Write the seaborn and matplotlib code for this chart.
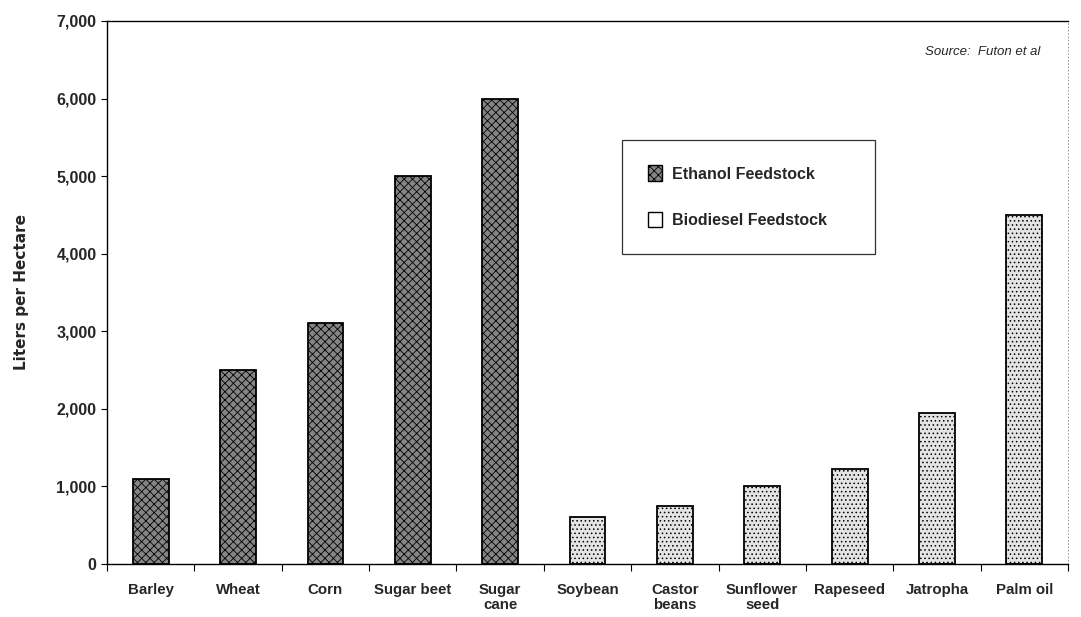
import matplotlib
matplotlib.use("Agg")
import matplotlib.pyplot as plt
import matplotlib.ticker as mticker
from matplotlib.patches import Patch
import seaborn as sns
import pandas as pd
import numpy as np

crops = ["Barley", "Wheat", "Corn", "Sugar beet", "Sugar\ncane", "Soybean",
         "Castor\nbeans", "Sunflower\nseed", "Rapeseed", "Jatropha", "Palm oil"]
yields = [1100, 2500, 3100, 5000, 6000, 600, 750, 1000, 1230, 1950, 4500]
feedstock = ["Ethanol Feedstock"] * 5 + ["Biodiesel Feedstock"] * 6

df = pd.DataFrame({"crop": crops, "yield": yields, "feedstock": feedstock})

sns.set_theme(style="white")
plt.rcParams["font.family"] = ["Liberation Sans", "DejaVu Sans"]
plt.rcParams["hatch.linewidth"] = 0.6

fig = plt.figure(figsize=(10.81, 6.17), dpi=100)
ax = fig.add_axes([0.099, 0.086, 0.889, 0.880])

palette = {"Ethanol Feedstock": "#858585", "Biodiesel Feedstock": "#e4e4e4"}
sns.barplot(data=df, x="crop", y="yield", hue="feedstock", palette=palette,
            dodge=False, width=0.41, edgecolor="black", linewidth=1.3,
            legend=False, ax=ax)

hatches = {"Ethanol Feedstock": "xxxx", "Biodiesel Feedstock": "...."}
for bar, kind in zip(ax.patches, feedstock):
    bar.set_hatch(hatches[kind])

ax.set_xlim(-0.5, len(crops) - 0.5)
ax.set_ylim(0, 7000)
ax.yaxis.set_major_locator(mticker.MultipleLocator(1000))
ax.yaxis.set_major_formatter(mticker.FuncFormatter(lambda v, p: f"{int(v):,}"))

ax.set_xticks(range(len(crops)))
ax.set_xticklabels(crops, fontsize=10.8, fontweight="bold", linespacing=1.05)
ax.set_xticks(np.arange(-0.5, len(crops) + 0.5, 1), minor=True)
ax.tick_params(axis="x", which="major", length=0, pad=14)
ax.tick_params(axis="x", which="minor", length=5, width=0.8, direction="out",
               color="black", bottom=True)
ax.tick_params(axis="y", length=4, width=0.8, direction="out", color="black",
               left=True, labelsize=11.5)
for lbl in ax.get_yticklabels():
    lbl.set_fontweight("bold")

ax.set_xlabel("")
ax.set_ylabel("Liters per Hectare", fontsize=11, fontweight="bold",
              family="DejaVu Sans", labelpad=20)

for side in ["left", "bottom", "top"]:
    ax.spines[side].set_visible(True)
    ax.spines[side].set_color("black")
    ax.spines[side].set_linewidth(1.0)
ax.spines["right"].set_visible(True)
ax.spines["right"].set_color("#888888")
ax.spines["right"].set_linewidth(0.6)
ax.spines["right"].set_linestyle((0, (1, 3)))

ax.text(0.971, 0.943, "Source:  Futon et al", transform=ax.transAxes,
        ha="right", va="center", fontsize=9.5, fontstyle="italic")

handles = [Patch(facecolor="#858585", edgecolor="black", hatch="xxxx",
                 label="Ethanol Feedstock"),
           Patch(facecolor="white", edgecolor="black", label="Biodiesel Feedstock")]
leg = ax.legend(handles=handles, loc="upper left",
                bbox_to_anchor=(0.536, 0.5, 0.263, 0.281), mode="expand",
                borderaxespad=0, frameon=True, fancybox=False, edgecolor="black",
                prop={"size": 11.5, "weight": "bold"}, handlelength=0.9,
                handleheight=1.1, labelspacing=1.9, borderpad=1.6,
                handletextpad=0.6)
leg.get_frame().set_linewidth(0.9)

fig.savefig("out.png", dpi=100, facecolor="white")
